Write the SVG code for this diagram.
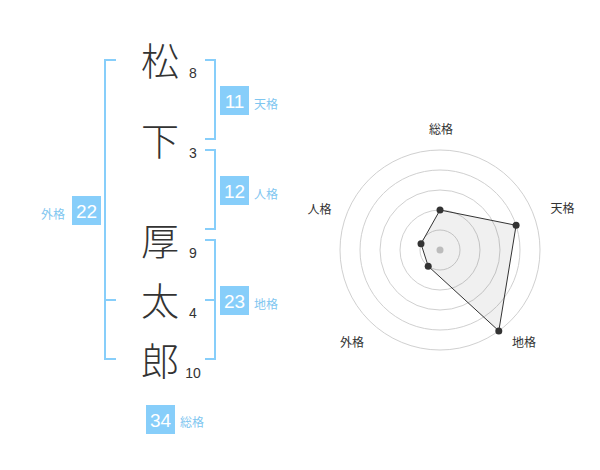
<svg xmlns="http://www.w3.org/2000/svg" width="600" height="470" viewBox="0 0 600 470">
<style>
.ch{font-family:"Noto Sans CJK JP","Noto Sans CJK SC",sans-serif;font-size:38px;font-weight:300;fill:#333;text-anchor:middle}
.num{font-family:"Liberation Sans",Arial,sans-serif;font-size:14px;fill:#333;text-anchor:middle}
.box{fill:#87cefa}
.bt{font-family:"Liberation Sans",Arial,sans-serif;font-size:19px;fill:#fff;text-anchor:middle}
.lb{font-family:"Noto Sans CJK JP","Noto Sans CJK SC",sans-serif;font-size:12px;fill:#7fc6f0}
.br{fill:none;stroke:#87cefa;stroke-width:2}
.ring{fill:none;stroke:#d0d0d0;stroke-width:1}
.rl{font-family:"Noto Sans CJK JP","Noto Sans CJK SC",sans-serif;font-size:12px;fill:#333;text-anchor:middle}
.pt{fill:#333}
</style>
<rect width="600" height="470" fill="#fff"/>
<g id="connectors">
<path class="br" d="M116,60 H105 V359 H116 M105,300 H116"/>
<path class="br" d="M205,60 H215 V139 H205"/>
<path class="br" d="M205,150 H215 V229 H205"/>
<path class="br" d="M205,240 H215 V359 H205 M205,300 H215"/>
</g>
<g id="char-matsu"><text class="ch" x="160" y="74.5">松</text><text class="num" x="193" y="77.5">8</text></g>
<g id="char-shita"><text class="ch" x="160" y="154.5">下</text><text class="num" x="193" y="158">3</text></g>
<g id="char-atsu"><text class="ch" x="160" y="254.5">厚</text><text class="num" x="193" y="257.5">9</text></g>
<g id="char-ta"><text class="ch" x="160" y="314.5">太</text><text class="num" x="193" y="318">4</text></g>
<g id="char-rou"><text class="ch" x="160" y="374.5">郎</text><text class="num" x="193" y="377.5">10</text></g>
<g id="tenkaku"><rect class="box" x="220" y="86" width="29" height="29"/><text class="bt" x="234.5" y="107.5">11</text><text class="lb" x="254" y="108.5">天格</text></g>
<g id="jinkaku"><rect class="box" x="220" y="176" width="29" height="29"/><text class="bt" x="234.5" y="197.5">12</text><text class="lb" x="254" y="198.5">人格</text></g>
<g id="gaikaku"><rect class="box" x="72" y="196" width="29" height="29"/><text class="bt" x="86.5" y="217.5">22</text><text class="lb" x="65" y="218.5" text-anchor="end">外格</text></g>
<g id="chikaku"><rect class="box" x="220" y="286" width="29" height="29"/><text class="bt" x="234.5" y="307.5">23</text><text class="lb" x="254" y="308.5">地格</text></g>
<g id="soukaku"><rect class="box" x="146" y="405" width="29" height="29"/><text class="bt" x="160.5" y="426.5">34</text><text class="lb" x="180" y="427">総格</text></g>
<g id="radar">
<circle class="ring" cx="440" cy="250" r="20"/>
<circle class="ring" cx="440" cy="250" r="40"/>
<circle class="ring" cx="440" cy="250" r="60"/>
<circle class="ring" cx="440" cy="250" r="80"/>
<circle class="ring" cx="440" cy="250" r="100"/>
<circle cx="440" cy="250" r="3.5" fill="#c8c8c8"/>
<polygon points="440,210 516.1,225.3 498.8,330.9 428.2,266.2 421,243.8" fill="#000" fill-opacity="0.06" stroke="#333" stroke-width="1"/>
<circle class="pt" cx="440" cy="210" r="3.5"/>
<circle class="pt" cx="516.1" cy="225.3" r="3.5"/>
<circle class="pt" cx="498.8" cy="330.9" r="3.5"/>
<circle class="pt" cx="428.2" cy="266.2" r="3.5"/>
<circle class="pt" cx="421" cy="243.8" r="3.5"/>
<text class="rl" x="441" y="134">総格</text>
<text class="rl" x="562.5" y="213">天格</text>
<text class="rl" x="524" y="346.5">地格</text>
<text class="rl" x="352" y="346.5">外格</text>
<text class="rl" x="319.5" y="214">人格</text>
</g>
</svg>
